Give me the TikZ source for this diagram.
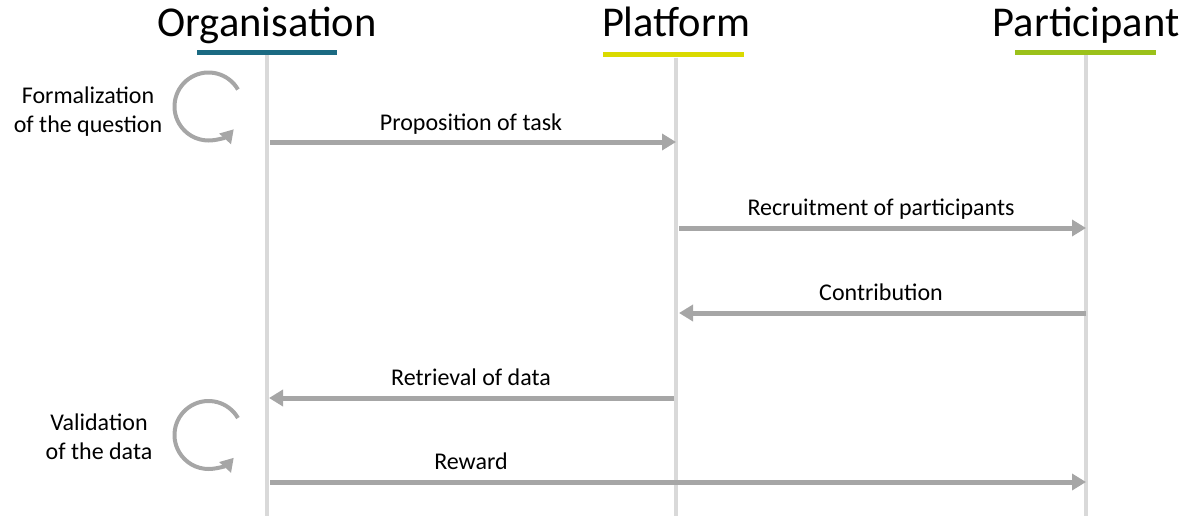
\documentclass[tikz,border=0pt]{standalone}
\usepackage{fontspec}
\setmainfont{Carlito}
\usetikzlibrary{arrows.meta,calc}
\definecolor{lifegray}{HTML}{D9D9D9}
\definecolor{arrgray}{HTML}{A6A6A6}
\definecolor{orgcol}{HTML}{1B6A82}
\definecolor{platcol}{HTML}{DADA00}
\definecolor{partcol}{HTML}{9BC11A}
\tikzset{
  title/.style={font=\fontsize{42.5}{46}\selectfont, anchor=base},
  bar/.style={line width=5pt},
  lifeline/.style={draw=lifegray, line width=4pt},
  msg/.style={draw=arrgray, line width=5pt, -{Triangle[length=14pt,width=16pt]}, shorten >=0pt},
  lbl/.style={font=\fontsize{24}{28}\selectfont, anchor=base},
  side/.style={font=\fontsize{24}{29}\selectfont, align=center},
  loop/.style={draw=arrgray, line width=4pt, -{Triangle[length=13pt,width=15pt]}},
}
\begin{document}
\begin{tikzpicture}[x=1pt,y=-1pt]
\useasboundingbox (0,0) rectangle (1190,516);
% titles
\node[title] (torg) at (267,37) {Organisation};
\node[title] (tplat) at (676,37) {Platform};
\node[title] (tpart) at (1086,37) {Participant};
% bars
\draw[bar, orgcol] (197,52.5) -- (337,52.5);
\draw[bar, platcol] (603,55) -- (744,55);
\draw[bar, partcol] (1015,52.5) -- (1156,52.5);
% lifelines
\coordinate (o1) at (267,55); \coordinate (o2) at (267,516);
\coordinate (p1) at (676,58); \coordinate (p2) at (676,516);
\coordinate (q1) at (1086,55); \coordinate (q2) at (1086,516);
\draw[lifeline] (o1) -- (o2);
\draw[lifeline] (p1) -- (p2);
\draw[lifeline] (q1) -- (q2);
% message endpoints
\coordinate (m1s) at (270,142); \coordinate (m1e) at (676,142);
\coordinate (m2s) at (679,228); \coordinate (m2e) at (1086,228);
\coordinate (m3s) at (1086,313); \coordinate (m3e) at (679,313);
\coordinate (m4s) at (674,398); \coordinate (m4e) at (269,398);
\coordinate (m5s) at (270,482); \coordinate (m5e) at (1086,482);
\draw[msg] (m1s) -- (m1e);
\draw[msg] (m2s) -- (m2e);
\draw[msg] (m3s) -- (m3e);
\draw[msg] (m4s) -- (m4e);
\draw[msg] (m5s) -- (m5e);
\node[lbl] (l1) at (471,130) {Proposition of task};
\node[lbl] (l2) at (881,215) {Recruitment of participants};
\node[lbl] (l3) at (881,300) {Contribution};
\node[lbl] (l4) at (471,385) {Retrieval of data};
\node[lbl] (l5) at (471,469) {Reward};
% loops
\coordinate (c1) at (208.5,106.5);
\draw[loop] ($(c1)+(-30:34)$) arc[start angle=-30, end angle=-318, radius=34];
\coordinate (c2) at (208.5,435);
\draw[loop] ($(c2)+(-30:34)$) arc[start angle=-30, end angle=-318, radius=34];
\node[side] (s1) at (88,112) {Formalization\\of the question};
\node[side] (s2) at (99,437) {Validation\\of the data};
\end{tikzpicture}
\end{document}
